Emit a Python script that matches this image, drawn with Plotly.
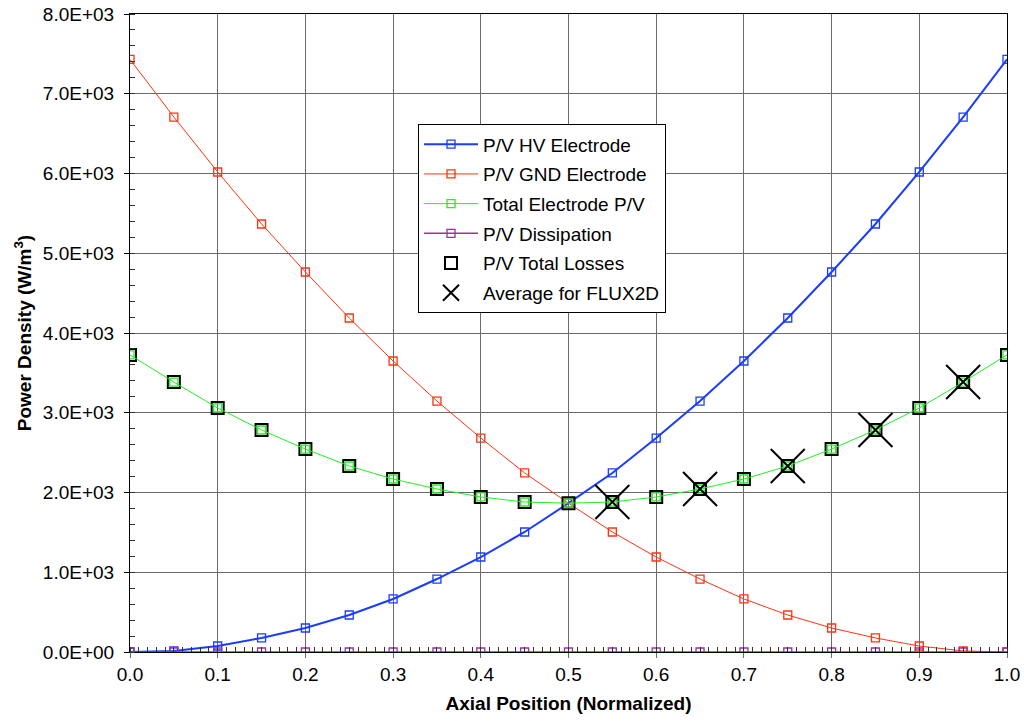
import plotly.graph_objects as go

x_pos = [0.0, 0.05, 0.1, 0.15, 0.2, 0.25, 0.3, 0.35, 0.4, 0.45, 0.5,
         0.55, 0.6, 0.65, 0.7, 0.75, 0.8, 0.85, 0.9, 0.95, 1.0]
pv_hv = [0, 13, 75, 176, 301, 464, 665, 915, 1191, 1505, 1866,
         2245, 2683, 3147, 3649, 4188, 4765, 5367, 6019, 6708, 7430]
pv_gnd = [7430, 6708, 6019, 5367, 4765, 4188, 3649, 3147, 2683, 2245, 1866,
          1505, 1191, 915, 665, 464, 301, 176, 75, 13, 0]
pv_total_elec = [3725, 3385, 3060, 2784, 2545, 2332, 2169, 2044, 1944, 1881, 1866,
                 1881, 1944, 2044, 2169, 2332, 2545, 2784, 3060, 3385, 3725]
pv_dissipation = [0] * 21
pv_total_losses = [3725, 3385, 3060, 2784, 2545, 2332, 2169, 2044, 1944, 1881, 1866,
                   1881, 1944, 2044, 2169, 2332, 2545, 2784, 3060, 3385, 3725]
flux_x = [0.55, 0.65, 0.75, 0.85, 0.95]
flux_avg = [1881, 2044, 2332, 2784, 3385]

y_ticks = [0, 1000, 2000, 3000, 4000, 5000, 6000, 7000, 8000]
y_tick_text = ["0.0E+00", "1.0E+03", "2.0E+03", "3.0E+03", "4.0E+03",
               "5.0E+03", "6.0E+03", "7.0E+03", "8.0E+03"]

FONT = "Liberation Sans, Arial, sans-serif"
FS = 19

fig = go.Figure()
fig.add_trace(go.Scatter(x=x_pos, y=pv_hv, mode="lines+markers", name="P/V HV Electrode",
                         legendgroup="a",
                         line=dict(color="#1a3cff", width=2),
                         marker=dict(symbol="square-open", size=8, color="#1a3cff", line=dict(width=1.3))))
fig.add_trace(go.Scatter(x=x_pos, y=pv_gnd, mode="lines+markers", name="P/V GND Electrode",
                         legendgroup="b",
                         line=dict(color="#ff3311", width=1),
                         marker=dict(symbol="square-open", size=8, color="#ff3311", line=dict(width=1.3))))
fig.add_trace(go.Scatter(x=x_pos, y=pv_dissipation, mode="lines+markers", name="P/V Dissipation",
                         legendgroup="d",
                         line=dict(color="#993399", width=1.5),
                         marker=dict(symbol="square-open", size=8, color="#993399", line=dict(width=1.3))))
fig.add_trace(go.Scatter(x=x_pos, y=pv_total_losses, mode="markers", name="P/V Total Losses",
                         legendgroup="e",
                         marker=dict(symbol="square-open", size=12, color="black", line=dict(width=2))))
fig.add_trace(go.Scatter(x=x_pos, y=pv_total_elec, mode="lines+markers", name="Total Electrode P/V",
                         legendgroup="c",
                         line=dict(color="#22ee22", width=1),
                         marker=dict(symbol="square-open", size=8, color="#22ee22", line=dict(width=1.3))))
fig.add_trace(go.Scatter(x=flux_x, y=flux_avg, mode="markers", name="Average for FLUX2D",
                         legendgroup="f",
                         marker=dict(symbol="x-thin-open", size=34, color="black", line=dict(width=2, color="black"))))

ranks = {"P/V HV Electrode": 1, "P/V GND Electrode": 2, "Total Electrode P/V": 3,
         "P/V Dissipation": 4, "P/V Total Losses": 5, "Average for FLUX2D": 6}
for tr in fig.data:
    tr.legendrank = ranks[tr.name]

fig.update_layout(
    width=1024, height=728,
    margin=dict(l=130, r=17, t=14, b=76),
    plot_bgcolor="white", paper_bgcolor="white",
    font=dict(family=FONT, size=FS, color="black"),
    showlegend=True,
    legend=dict(x=0.3284, y=0.827, xanchor="left", yanchor="top",
                bgcolor="white", bordercolor="black", borderwidth=1,
                font=dict(family=FONT, size=FS), tracegroupgap=2,
                traceorder="grouped", itemwidth=54),
)
fig.update_xaxes(
    range=[0, 1], tickvals=[i / 10 for i in range(11)], tickformat=".1f",
    showgrid=True, gridcolor="#6a6a6a", gridwidth=1,
    showline=True, linecolor="black", linewidth=1, mirror=True,
    ticks="outside", ticklen=5, tickcolor="#6a6a6a",
    minor=dict(dtick=0.01, ticks="inside", ticklen=5, tickcolor="#333", showgrid=False),
    zeroline=False, automargin=False,
    title=dict(text="<b>Axial Position (Normalized)</b>", font=dict(size=FS), standoff=12),
    tickfont=dict(size=FS),
)
fig.update_yaxes(
    range=[0, 8000], tickvals=y_ticks, ticktext=y_tick_text,
    showgrid=True, gridcolor="#6a6a6a", gridwidth=1,
    showline=True, linecolor="black", linewidth=1, mirror=True,
    ticks="outside", ticklen=5, tickcolor="black",
    minor=dict(dtick=200, ticks="inside", ticklen=5, tickcolor="#333", showgrid=False),
    zeroline=False, automargin=False, ticklabelstandoff=6,
    title=dict(text="<b>Power Density (W/m<sup>3</sup>)</b>", font=dict(size=FS), standoff=6),
    tickfont=dict(size=FS),
)
fig.write_html("out.html", config={"displayModeBar": False},
               post_script="document.body.style.margin='0';")
